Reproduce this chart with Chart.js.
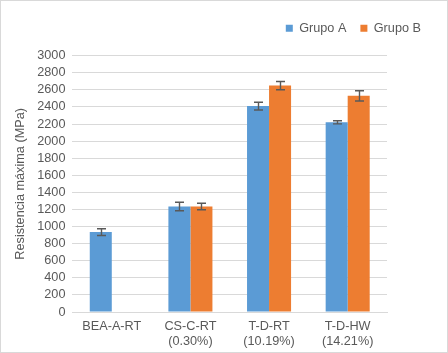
<!DOCTYPE html>
<html>
<head>
<meta charset="utf-8">
<script src="https://cdn.jsdelivr.net/npm/chart.js@4.4.1/dist/chart.umd.min.js"></script>
<style>
  html, body { margin: 0; padding: 0; background: #fff; }
  #wrap { width: 448px; height: 353px; box-sizing: border-box; border: 1px solid #d9d9d9; }
  #chart { display: block; }
</style>
</head>
<body>
<div id="wrap"><canvas id="chart" width="446" height="351"></canvas></div>
<script>
const categories = [['BEA-A-RT'], ['CS-C-RT', '(0.30%)'], ['T-D-RT', '(10.19%)'], ['T-D-HW', '(14.21%)']];
const grupoA = [935, 1235, 2410, 2220];
const grupoB = [null, 1235, 2650, 2530];
const errorA = [40, 50, 45, 18];
const errorB = [null, 38, 48, 60];
const yTicks = [0, 200, 400, 600, 800, 1000, 1200, 1400, 1600, 1800, 2000, 2200, 2400, 2600, 2800, 3000];

const TEXT = '#595959';
const GRID = '#d9d9d9';
const FONT = { family: 'Liberation Sans', size: 12.7 };

// dibuja las barras de error encima de cada barra
const errorBars = {
  id: 'errorBars',
  afterDatasetsDraw(chart) {
    const { ctx } = chart;
    const yScale = chart.scales.y;
    const errs = [errorA, errorB];
    ctx.save();
    ctx.strokeStyle = '#595959';
    ctx.lineWidth = 1.4;
    chart.data.datasets.forEach((ds, di) => {
      const meta = chart.getDatasetMeta(di);
      meta.data.forEach((bar, i) => {
        const v = ds.data[i];
        const e = errs[di][i];
        if (v == null || e == null) return;
        const x = Math.round(bar.x) + 0.5;
        const yTop = yScale.getPixelForValue(v + e);
        const yBot = yScale.getPixelForValue(v - e);
        ctx.beginPath();
        ctx.moveTo(x, yTop);
        ctx.lineTo(x, yBot);
        ctx.moveTo(x - 4.5, yTop);
        ctx.lineTo(x + 4.5, yTop);
        ctx.moveTo(x - 4.5, yBot);
        ctx.lineTo(x + 4.5, yBot);
        ctx.stroke();
      });
    });
    ctx.restore();
  },
};

// espacio extra bajo la leyenda
const legendGap = {
  id: 'legendGap',
  beforeInit(chart) {
    const fit = chart.legend.fit;
    chart.legend.fit = function () {
      fit.call(this);
      this.height += 11;
    };
  },
};

new Chart(document.getElementById('chart').getContext('2d'), {
  type: 'bar',
  data: {
    labels: categories,
    datasets: [
      { label: 'Grupo A', data: grupoA, backgroundColor: '#5B9BD5', categoryPercentage: 0.56, barPercentage: 1 },
      { label: 'Grupo B', data: grupoB, backgroundColor: '#ED7D31', categoryPercentage: 0.56, barPercentage: 1 },
    ],
  },
  options: {
    responsive: false,
    animation: false,
    layout: { padding: { top: 7, left: 12, right: 12, bottom: 0 } },
    scales: {
      x: {
        grid: { display: false, drawTicks: false },
        border: { color: GRID },
        ticks: { color: TEXT, font: FONT, maxRotation: 0, padding: 7 },
        afterFit: (scale) => { scale.height = 40; },
      },
      y: {
        min: 0,
        max: 3000,
        afterBuildTicks: (scale) => { scale.ticks = yTicks.map((v) => ({ value: v })); },
        grid: { color: GRID, drawTicks: false },
        border: { display: false },
        ticks: { color: TEXT, font: FONT, padding: 7, autoSkip: false, callback: (v) => String(v) },
        title: { display: true, text: 'Resistencia máxima (MPa)', color: TEXT, font: FONT, padding: { top: 0, bottom: 2 } },
      },
      y2: {
        position: 'right',
        display: true,
        grid: { display: false },
        border: { display: false },
        ticks: { display: false },
        afterFit: (scale) => { scale.width = 48; },
      },
    },
    plugins: {
      legend: {
        align: 'end',
        labels: { color: TEXT, font: FONT, boxWidth: 7, boxHeight: 7, padding: 14 },
      },
      tooltip: { enabled: false },
    },
  },
  plugins: [errorBars, legendGap],
});
</script>
</body>
</html>
